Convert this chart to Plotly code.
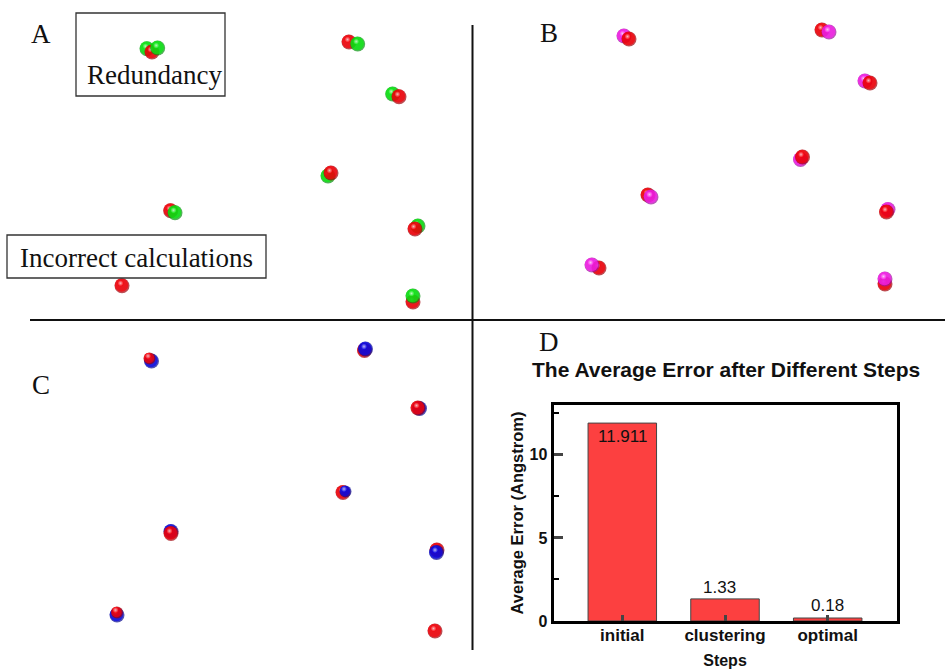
import plotly.graph_objects as go

# Bar chart data (panel D)
steps = ["initial", "clustering", "optimal"]
avg_error = [11.911, 1.33, 0.18]
error_labels = ["11.911", "1.33", "0.18"]
y_ticks = [0, 5, 10]

# Atom positions, listed back to front
a_x = [147, 152, 157.7, 349, 357.7, 392.7, 399, 328, 331, 170.7, 175, 418, 415, 122, 413, 413]
a_y = [48.7, 52, 48, 42, 44, 94, 96.7, 176, 173, 210.7, 212.7, 226, 229, 285.7, 302, 296]
a_kind = ["g", "r", "g", "r", "g", "g", "r", "g", "r", "r", "g", "g", "r", "r", "r", "g"]

b_x = [624, 629, 822, 829, 865, 870, 800.5, 802.5, 648, 651, 888, 886.5, 599, 592, 885, 885]
b_y = [36, 39, 30, 32, 81, 83, 159.5, 157, 195, 197, 209.5, 212, 268, 265, 284, 279]
b_kind = ["m", "r", "r", "m", "m", "r", "m", "r", "r", "m", "m", "r", "r", "m", "r", "m"]

c_x = [151.5, 149.5, 364.5, 365.5, 419.5, 418, 343, 345.5, 171, 171, 437, 436.5, 117, 117, 435]
c_y = [361, 358.5, 350.5, 349, 408.5, 408, 492.5, 491.5, 531.5, 533.5, 550, 552.5, 615, 612.5, 631]
c_kind = ["b", "R", "r", "b", "b", "r", "r", "B", "b", "r", "r", "b", "b", "R", "r"]

palette = {"r": "#ff0008", "R": "#ff0008", "g": "#08f010", "m": "#ff20f0", "b": "#0808f0", "B": "#0808f0"}
shade = {"r": "#a00008", "R": "#a00008", "g": "#089010", "m": "#a010a0", "b": "#080890", "B": "#080890"}
diameter = {"r": 15, "R": 12, "g": 15, "m": 15, "b": 15, "B": 12}

fig = go.Figure()

fig.add_trace(go.Bar(
    x=steps, y=avg_error, width=0.667,
    marker=dict(color="#fc4040", line=dict(color="#444444", width=1)),
    xaxis="x", yaxis="y", showlegend=False,
))

for xs, ys, kinds in [(a_x, a_y, a_kind), (b_x, b_y, b_kind), (c_x, c_y, c_kind)]:
    px, py, fill, edge, size = [], [], [], [], []
    for x, y, k in zip(xs, ys, kinds):
        # dark rim, lit body, specular spot: a nearer atom hides all three
        px += [x, x - 0.5, x - 1.5]
        py += [y, y - 0.6, y - 2.5]
        fill += [shade[k], palette[k], palette[k]]
        edge += [shade[k], palette[k], "#ffffff"]
        size += [diameter[k], diameter[k] - 1.5, 6]
    fig.add_trace(go.Scatter(
        x=px, y=py, mode="markers", xaxis="x2", yaxis="y2", showlegend=False,
        marker=dict(size=size, color=fill,
                    gradient=dict(type="radial", color=edge), line=dict(width=0)),
    ))

label_y = [11.1, 2.0, 0.96]
label_shift = [0, -6, 0]
for i, text in enumerate(error_labels):
    fig.add_annotation(x=steps[i], y=label_y[i], xref="x", yref="y", text=text, showarrow=False,
                       xshift=label_shift[i],
                       font=dict(family="Liberation Sans", size=17, color="#111111"))


def note(x, y, text, size):
    fig.add_annotation(x=x, y=y, xref="x2", yref="y2", text=text, showarrow=False,
                       font=dict(family="Liberation Serif", size=size, color="#111111"))


note(41, 34, "A", 27)
note(549, 33, "B", 27)
note(41, 385, "C", 27)
note(549, 342, "D", 27)
note(154, 75, "Redundancy", 27)
note(136, 258, "Incorrect calculations", 27)

fig.add_annotation(x=725.5, y=369, xref="x2", yref="y2", text="<b>The Average Error after Different Steps</b>",
                   showarrow=False, font=dict(family="Liberation Sans", size=21, color="#111111"))

for (x0, y0, x1, y1) in [(76, 13, 225, 96), (7, 235, 266, 278)]:
    fig.add_shape(type="rect", x0=x0, y0=y0, x1=x1, y1=y1, xref="x2", yref="y2",
                  line=dict(color="#333333", width=1.3))
fig.add_shape(type="line", x0=472.5, x1=472.5, y0=25, y1=650, xref="x2", yref="y2",
              line=dict(color="#111111", width=2))
fig.add_shape(type="line", x0=30, x1=945, y0=320, y1=320, xref="x2", yref="y2",
              line=dict(color="#111111", width=2))

fig.update_layout(
    width=945, height=669, autosize=False,
    margin=dict(l=0, r=0, t=0, b=0),
    paper_bgcolor="white", plot_bgcolor="rgba(0,0,0,0)",
    bargap=0.333,
    xaxis=dict(
        domain=[553.5 / 945, 896.5 / 945], range=[-0.67, 2.67], anchor="y",
        showgrid=False, zeroline=False, showline=True, mirror=True, automargin=False,
        linecolor="black", linewidth=3, ticks="inside", ticklen=6, tickwidth=2.5,
        ticklabelstandoff=-3,
        tickfont=dict(family="Liberation Sans", size=17, color="#111111", weight="bold"),
        title=dict(text="<b>Steps</b>", standoff=14,
                   font=dict(family="Liberation Sans", size=16, color="#111111")),
    ),
    yaxis=dict(
        domain=[1 - 621 / 669, 1 - 405 / 669], range=[0, 13], anchor="x",
        tickvals=y_ticks, automargin=False,
        showgrid=False, zeroline=False, showline=True, mirror=True,
        linecolor="black", linewidth=3, ticks="inside", ticklen=9, tickwidth=2.5,
        minor=dict(dtick=2.5, ticks="inside", ticklen=5, tickwidth=2, tickcolor="black", showgrid=False),
        tickfont=dict(family="Liberation Sans", size=16, color="#111111", weight="bold"),
        title=dict(text="<b>Average Error (Angstrom)</b>", standoff=2,
                   font=dict(family="Liberation Sans", size=16.5, color="#111111")),
    ),
    xaxis2=dict(domain=[0, 1], range=[0, 945], anchor="y2", visible=False, fixedrange=True),
    yaxis2=dict(domain=[0, 1], range=[669, 0], anchor="x2", visible=False, fixedrange=True),
)

fig.write_html("out.html", config={"displayModeBar": False},
               post_script="document.body.style.margin='0';document.body.style.overflow='hidden';")
